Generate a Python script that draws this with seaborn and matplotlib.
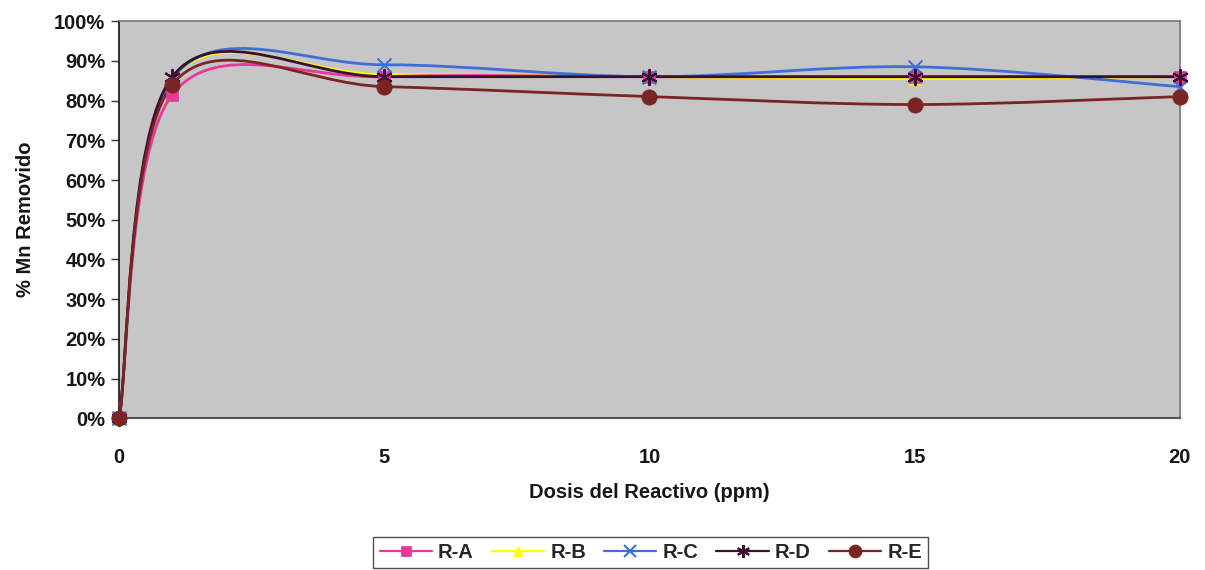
import numpy as np
import pandas as pd
import matplotlib
matplotlib.use("Agg")
import matplotlib.pyplot as plt
from matplotlib.path import Path
from matplotlib.patches import PathPatch
from matplotlib.lines import Line2D
from matplotlib.ticker import PercentFormatter
import seaborn as sns

dosis = [0, 1, 5, 10, 15, 20]
r_a = [0.0, 81.5, 86.0, 86.0, 86.0, 86.0]
r_b = [0.0, 85.5, 86.5, 86.0, 85.5, 86.0]
r_c = [0.0, 85.5, 89.0, 86.0, 88.5, 83.5]
r_d = [0.0, 86.0, 86.0, 86.0, 86.0, 86.0]
r_e = [0.0, 84.0, 83.5, 81.0, 79.0, 81.0]
series_names = ["R-A", "R-B", "R-C", "R-D", "R-E"]

colors = {"R-A": "#e8389a", "R-B": "#ffff00", "R-C": "#3f6fd6",
          "R-D": "#3a1030", "R-E": "#7a2424"}
markers = {"R-A": "s", "R-B": "^", "R-C": "x", "R-D": (6, 2, 0), "R-E": "o"}
msizes = {"R-A": 9, "R-B": 9, "R-C": 10, "R-D": 11, "R-E": 11}
zorders = {"R-A": 3.2, "R-B": 3.0, "R-C": 3.3, "R-D": 3.4, "R-E": 3.5}

df = pd.DataFrame({"dosis": dosis * 5,
                   "valor": r_a + r_b + r_c + r_d + r_e,
                   "serie": sum([[n] * len(dosis) for n in series_names], [])})
df["frac"] = df["valor"] / 100.0

sns.set_theme(style="white")
plt.rcParams["font.family"] = ["Liberation Sans", "DejaVu Sans"]

FS = 14.5

fig = plt.figure(figsize=(12.05, 5.70), dpi=100)
ax = fig.add_axes([0.099, 0.266, 0.880, 0.697])
ax.set_facecolor("#c6c6c6")


def smooth_path(xs, ys):
    pts = np.column_stack([xs, ys]).astype(float)
    n = len(pts)
    verts = [pts[0]]
    codes = [Path.MOVETO]
    for i in range(n - 1):
        p0 = pts[i - 1] if i > 0 else pts[i]
        p1 = pts[i]
        p2 = pts[i + 1]
        p3 = pts[i + 2] if i + 2 < n else pts[i + 1]
        c1 = p1 + (p2 - p0) / 6.0
        c2 = p2 - (p3 - p1) / 6.0
        verts += [c1, c2, p2]
        codes += [Path.CURVE4] * 3
    return Path(verts, codes)


for name in series_names:
    sub = df[df["serie"] == name]
    patch = PathPatch(smooth_path(sub["dosis"].values, sub["frac"].values),
                      facecolor="none", edgecolor=colors[name], lw=2.0,
                      transform=ax.transData, zorder=zorders[name], clip_on=False)
    ax.add_patch(patch)

for name in series_names:
    sub = df[df["serie"] == name]
    sns.scatterplot(data=sub, x="dosis", y="frac", ax=ax, marker=markers[name],
                    s=msizes[name] ** 2, color=colors[name],
                    edgecolor=colors[name] if name not in ("R-C",) else None,
                    linewidth=1.5 if name in ("R-C", "R-D") else 0.5,
                    zorder=4 + zorders[name], clip_on=False, legend=False)

ax.set_xlim(0, 20)
ax.set_ylim(0, 1)
ax.set_xticks([0, 5, 10, 15, 20])
ax.set_yticks(np.arange(0, 1.01, 0.1))
ax.yaxis.set_major_formatter(PercentFormatter(1.0, decimals=0))
for lab in ax.get_xticklabels() + ax.get_yticklabels():
    lab.set_fontweight("bold")
    lab.set_fontsize(FS)
    lab.set_color("#161616")
ax.tick_params(axis="y", left=True, length=6, width=1, color="#333333", pad=4)
ax.tick_params(axis="x", bottom=False, pad=15)

for side in ["top", "right"]:
    ax.spines[side].set_color("#777777")
    ax.spines[side].set_linewidth(1.2)
ax.spines["left"].set_color("#222222")
ax.spines["left"].set_linewidth(1.3)
ax.spines["bottom"].set_color("#555555")
ax.spines["bottom"].set_linewidth(1.5)

ax.set_xlabel("Dosis del Reactivo (ppm)", fontsize=FS, fontweight="bold",
              labelpad=12, color="#161616")
ax.set_ylabel("% Mn Removido", fontsize=FS, fontweight="bold",
              labelpad=14, color="#161616")

handles = []
for name in series_names:
    handles.append(Line2D([0], [0], color=colors[name], lw=1.6,
                          marker=markers[name], markersize=msizes[name] * 0.85,
                          markerfacecolor=colors[name], markeredgecolor=colors[name],
                          markeredgewidth=1.5 if name in ("R-C", "R-D") else 0.5))
leg = fig.legend(handles, series_names, loc="center", bbox_to_anchor=(0.54, 0.031),
                 ncol=5, frameon=True, fancybox=False, handlelength=2.6,
                 columnspacing=0.9, handletextpad=0.3, borderpad=0.3,
                 prop={"size": FS, "weight": "bold"})
leg.get_frame().set_edgecolor("#222222")
leg.get_frame().set_linewidth(1.0)

fig.savefig("out.png", dpi=100, facecolor="white")
